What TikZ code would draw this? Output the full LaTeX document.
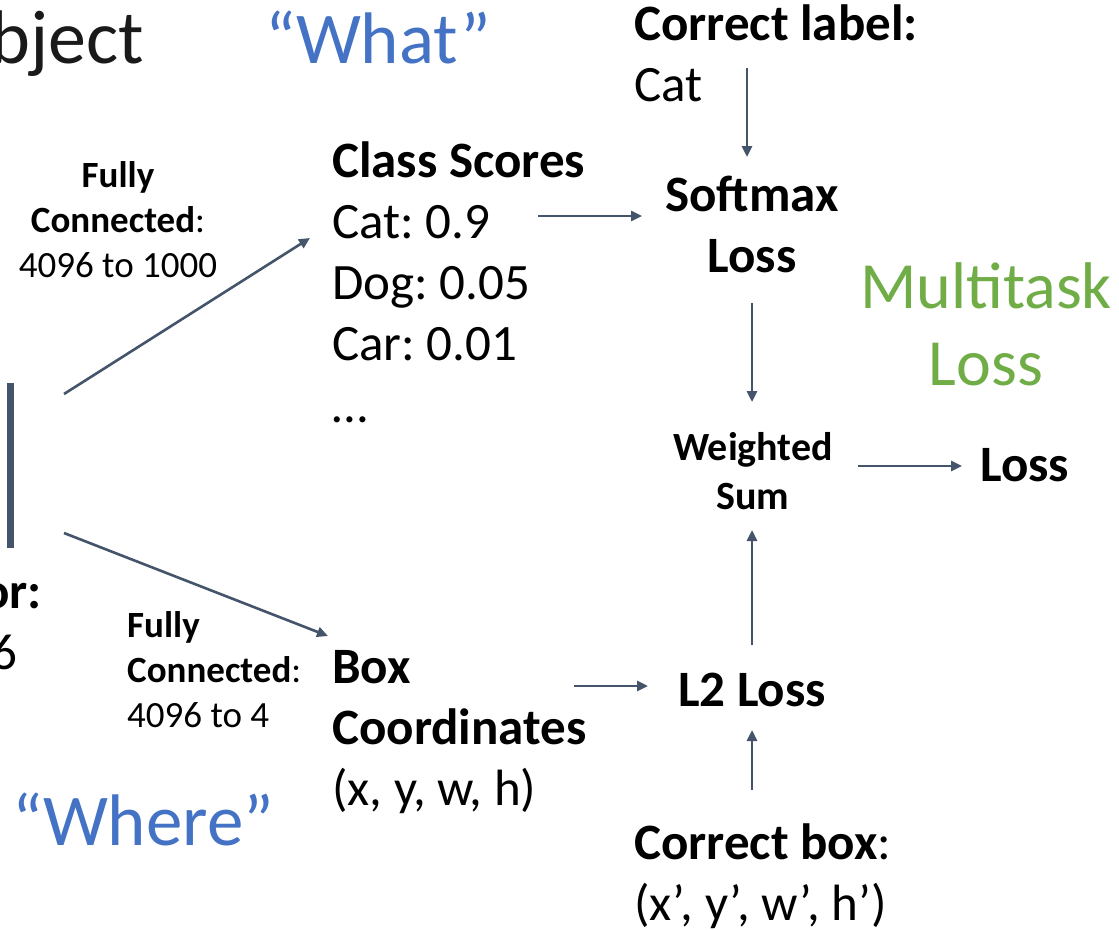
\documentclass[tikz,border=0pt]{standalone}
\usepackage{fontspec}
\setmainfont{Carlito}
\usetikzlibrary{arrows.meta}
\definecolor{arrowc}{HTML}{44546A}
\definecolor{blueq}{HTML}{4472C4}
\definecolor{greenm}{HTML}{70AD47}
\definecolor{titlec}{HTML}{1A1A1A}
\frenchspacing
\begin{document}
\begin{tikzpicture}[x=1pt,y=-1pt,
  arr/.style={draw=arrowc, line width=2.6pt, -{Triangle[length=11pt,width=10pt]}},
  txt/.style={inner sep=0pt, anchor=base west, font=\fontsize{51}{61}\selectfont},
  btxt/.style={inner sep=0pt, anchor=base west, font=\fontsize{51}{61}\selectfont\bfseries},
  ctxt/.style={inner sep=0pt, anchor=base, font=\fontsize{51}{61}\selectfont\bfseries},
  small/.style={inner sep=0pt, font=\fontsize{37}{45}\selectfont},
  wsum/.style={inner sep=0pt, anchor=base, font=\fontsize{40}{49}\selectfont\bfseries},
  quote/.style={inner sep=0pt, anchor=base west, text=blueq, font=\fontsize{73}{87}\selectfont},
  multi/.style={inner sep=0pt, anchor=base, text=greenm, font=\fontsize{66}{77}\selectfont}]
\clip (0,0) rectangle (1119,929);
\fill[white] (0,0) rectangle (1119,929);

% title fragment and quotes
\node[inner sep=0pt, anchor=base east, text=titlec, font=\fontsize{76}{90}\selectfont] (title) at (144,63) {Object};
\node[quote] (what) at (265,63) {“What”};
\node[quote] (where) at (12,845) {“Where”};

% vector
\draw[arrowc, line width=7pt] (10,383) -- (10,548);
\node[ctxt] (vec1) at (-34,608) {Vector:};
\node[inner sep=0pt, anchor=base, font=\fontsize{51}{61}\selectfont] (vec2) at (-34,669) {4096};

% fully connected labels
\node[small, anchor=base, font=\fontsize{37}{45}\selectfont\bfseries] (fc1a) at (118,187) {Fully};
\node[small, anchor=base] (fc1b) at (118,232) {\textbf{Connected}:};
\node[small, anchor=base] (fc1c) at (118,277) {4096 to 1000};
\node[small, anchor=base west, font=\fontsize{37}{45}\selectfont\bfseries] (fc2a) at (127,637) {Fully};
\node[small, anchor=base west] (fc2b) at (127,682) {\textbf{Connected}:};
\node[small, anchor=base west] (fc2c) at (127,727) {4096 to 4};

% class scores
\node[btxt] (cs) at (332,177) {Class Scores};
\node[txt] (cat) at (332,238) {Cat: 0.9};
\node[txt] (dog) at (332,299) {Dog: 0.05};
\node[txt] (car) at (332,360) {Car: 0.01};
\node[txt] (dots) at (332,422) {…};

% box coordinates
\node[btxt] (box1) at (332,683) {Box};
\node[btxt] (box2) at (332,744) {Coordinates};
\node[txt] (box3) at (332,805) {(x, y, w, h)};

% correct label
\node[btxt] (cl1) at (634,40) {Correct label:};
\node[txt] (cl2) at (634,101) {Cat};

% softmax
\node[ctxt] (sm1) at (752,211) {Softmax};
\node[ctxt] (sm2) at (752,272) {Loss};

% multitask
\node[multi] (mt1) at (986,308) {Multitask};
\node[multi] (mt2) at (986,385) {Loss};

% weighted sum
\node[wsum] (ws1) at (753,460) {Weighted};
\node[wsum] (ws2) at (753,509) {Sum};

% final loss
\node[btxt] (loss) at (980,481) {Loss};

% L2 loss
\node[ctxt] (l2) at (752,706) {L2 Loss};

% correct box
\node[btxt] (cb1) at (634,859) {Correct box\textmd{:}};
\node[txt] (cb2) at (634,920) {(x’, y’, w’, h’)};

% arrow end points
\coordinate (fc1s) at (64,394);   \coordinate (fc1e) at (310,238);
\coordinate (fc2s) at (64,533);   \coordinate (fc2e) at (328,636);
\coordinate (cats) at (538,216);  \coordinate (cate) at (642,216);
\coordinate (cls)  at (747,68);   \coordinate (cle)  at (747,157);
\coordinate (sms)  at (752,303);  \coordinate (sme)  at (752,402);
\coordinate (wss)  at (858,466);  \coordinate (wse)  at (962,466);
\coordinate (bxs)  at (574,686);  \coordinate (bxe)  at (648,686);
\coordinate (l2s)  at (752,645);  \coordinate (l2e)  at (752,530);
\coordinate (cbs)  at (752,790);  \coordinate (cbe)  at (752,730);

\draw[arr] (fc1s) -- (fc1e);
\draw[arr] (fc2s) -- (fc2e);
\draw[arr] (cats) -- (cate);
\draw[arr] (cls) -- (cle);
\draw[arr] (sms) -- (sme);
\draw[arr] (wss) -- (wse);
\draw[arr] (bxs) -- (bxe);
\draw[arr] (l2s) -- (l2e);
\draw[arr] (cbs) -- (cbe);
\end{tikzpicture}
\end{document}
